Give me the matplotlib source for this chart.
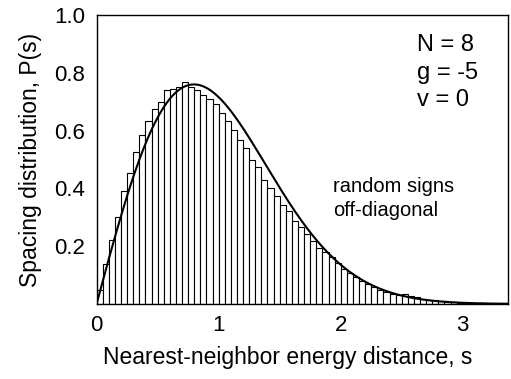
import numpy as np
import matplotlib.pyplot as plt

plt.rcParams['font.family'] = ['Liberation Sans', 'DejaVu Sans']

# level-spacing histogram, bins of width 0.05 starting at s = 0
bin_width = 0.05
counts = [0.05, 0.137, 0.221, 0.302, 0.392, 0.452, 0.527, 0.585, 0.634, 0.675,
          0.700, 0.740, 0.743, 0.752, 0.767, 0.750, 0.740, 0.723, 0.708, 0.692,
          0.660, 0.634, 0.604, 0.567, 0.539, 0.500, 0.473, 0.429, 0.400, 0.374,
          0.343, 0.322, 0.288, 0.268, 0.242, 0.218, 0.193, 0.181, 0.162, 0.143,
          0.120, 0.106, 0.094, 0.081, 0.069, 0.058, 0.048, 0.040, 0.035, 0.030,
          0.035, 0.029, 0.023, 0.017, 0.014, 0.012, 0.009, 0.008, 0.006, 0.005,
          0.004, 0.003, 0.002, 0.002]
left_edges = np.arange(len(counts)) * bin_width

xticks = [0, 1, 2, 3]
yticks = [0.2, 0.4, 0.6, 0.8, 1.0]
params = ['N = 8', 'g = -5', 'v = 0']

fig = plt.figure(figsize=(5.11, 3.79), dpi=100)
ax = fig.add_axes([0.189, 0.198, 0.805, 0.762])

ax.bar(left_edges, counts, width=bin_width, align='edge',
       facecolor='white', edgecolor='black', linewidth=0.8)

# Wigner surmise (GOE)
s = np.linspace(0, 3.4, 400)
ax.plot(s, np.pi / 2 * s * np.exp(-np.pi * s ** 2 / 4), color='black', lw=1.5)

ax.set_xlim(0, 3.37)
ax.set_ylim(0, 1.0)
ax.set_xticks(xticks)
ax.set_xticklabels([str(t) for t in xticks])
ax.set_yticks(yticks)
ax.set_yticklabels(['%.1f' % t for t in yticks])
ax.tick_params(length=0, labelsize=16, pad=8)
for sp in ax.spines.values():
    sp.set_linewidth(1.0)

ax.set_xlabel('Nearest-neighbor energy distance, s', fontsize=16.5,
              labelpad=7, x=0.465)
ax.set_ylabel('Spacing distribution, P(s)', fontsize=16.5, labelpad=9)

for i, txt in enumerate(params):
    ax.text(2.625, 0.896 - 0.095 * i, txt, fontsize=17, va='center', ha='left')
ax.text(1.937, 0.408, 'random signs', fontsize=14.5, va='center', ha='left')
ax.text(1.937, 0.325, 'off-diagonal', fontsize=14.5, va='center', ha='left')

fig.savefig('out.png', dpi=100)
